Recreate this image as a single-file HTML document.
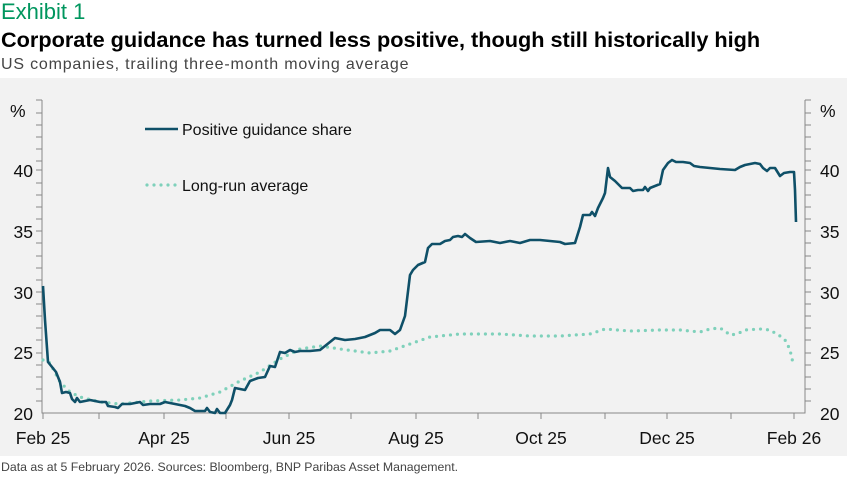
<!DOCTYPE html>
<html><head><meta charset="utf-8"><style>
body{margin:0;width:847px;height:480px;background:#fff;font-family:"Liberation Sans",sans-serif;overflow:hidden;position:relative}
.t{position:absolute;white-space:nowrap}
</style></head><body>
<div class="t" style="left:1px;top:-1px;font-size:22px;color:#00965e">Exhibit 1</div>
<div class="t" style="left:1px;top:27px;font-size:21.7px;font-weight:bold;color:#000">Corporate guidance has turned less positive, though still historically high</div>
<div class="t" style="left:1px;top:56px;font-size:16px;color:#444;letter-spacing:0.8px">US companies, trailing three-month moving average</div>
<div style="position:absolute;left:0;top:78px;width:847px;height:378px;background:#f2f2f2"></div>
<svg style="position:absolute;left:0;top:0" width="847" height="480" font-family="Liberation Sans, sans-serif">
<g stroke="#888" stroke-width="1" fill="none">
<path d="M42,100V413H805V100"/>
<path d="M36,100H42M36,113H42M36,125H42M36,137H42M36,149H42M36,161H42M36,170H42M36,183H42M36,195H42M36,207H42M36,219H42M36,231H42M36,243H42M36,256H42M36,268H42M36,280H42M36,292H42M36,304H42M36,316H42M36,328H42M36,340H42M36,353H42M36,365H42M36,377H42M36,389H42M36,401H42"/>
<path d="M805,100H811M805,113H811M805,125H811M805,137H811M805,149H811M805,161H811M805,170H811M805,183H811M805,195H811M805,207H811M805,219H811M805,231H811M805,243H811M805,256H811M805,268H811M805,280H811M805,292H811M805,304H811M805,316H811M805,328H811M805,340H811M805,353H811M805,365H811M805,377H811M805,389H811M805,401H811"/>
<path d="M43,413v6M99,413v6M164,413v6M226,413v6M289,413v6M351,413v6M416,413v6M478,413v6M541,413v6M605,413v6M667,413v6M731,413v6M794,413v6"/>
</g>
<g font-size="17.5" fill="#111">
<text x="10" y="117">%</text><text x="820" y="117">%</text>
<g text-anchor="end"><text x="33" y="177">40</text><text x="33" y="238">35</text><text x="33" y="299">30</text><text x="33" y="359">25</text><text x="33" y="420">20</text></g>
<text x="820" y="177">40</text><text x="820" y="238">35</text><text x="820" y="299">30</text><text x="820" y="359">25</text><text x="820" y="420">20</text>
<g text-anchor="middle"><text x="43" y="444">Feb 25</text><text x="164" y="444">Apr 25</text><text x="289" y="444">Jun 25</text><text x="416" y="444">Aug 25</text><text x="541" y="444">Oct 25</text><text x="667" y="444">Dec 25</text><text x="794" y="444">Feb 26</text></g>
</g>
<polyline fill="none" stroke="#7fd1bb" stroke-width="3.2" stroke-linecap="round" stroke-dasharray="0 7" points="43,360 50,363 60,382 70,392 80,397 100,402 120,404 150,401 180,400 200,398 220,392 240,381 260,372 280,359 300,349 320,346 340,349 370,353 390,351 410,344 430,337 460,334 500,334 530,336 560,336 590,334 605,329 630,331 660,330 680,330 690,331 700,332 710,329 720,328 725,331 730,335 737,334 745,330 760,329 770,330 780,336 786,341 790,350 793,363"/>
<polyline fill="none" stroke="#0f5068" stroke-width="2.6" stroke-linejoin="round" points="43,286 45,320 48,362 52,367 56,372 60,382 62,393 66,392 70,393 72,399 75,402 77,398 80,402 90,400 100,402 106,402 108,406 115,407 118,408 122,404 130,404 140,402 143,405 150,404 160,404 165,402 175,404 185,406 190,408 195,411 200,411 205,411 207,408 210,412 215,413 217,409 220,413 225,413 230,405 232,400 235,388 240,389 245,390 250,381 258,378 265,377 270,366 275,367 280,352 285,353 290,350 295,352 300,351 310,351 320,350 330,342 335,338 340,339 345,340 355,339 365,337 375,333 380,330 390,330 395,334 400,330 405,316 410,275 413,270 418,265 425,262 428,248 432,244 440,244 445,241 450,240 453,237 458,236 462,237 465,234 470,238 476,242 490,241 500,243 510,241 520,243 530,240 540,240 550,241 560,242 565,244 575,243 580,227 583,215 590,215 592,212 595,216 598,208 603,198 605,193 608,168 610,177 615,181 618,184 622,188 630,188 633,191 638,190 643,190 645,187 648,191 650,188 655,186 660,184 663,170 668,163 672,160 676,162 683,162 690,163 694,166 700,167 710,168 720,169 735,170 740,167 745,165 750,164 755,163 760,164 763,168 767,171 770,168 775,168 780,176 784,173 790,172 794,172 795,190 796,222"/>
<line x1="145" y1="129" x2="178" y2="129" stroke="#0f5068" stroke-width="2.6"/>
<line x1="147" y1="185" x2="178" y2="185" stroke="#7fd1bb" stroke-width="3.2" stroke-linecap="round" stroke-dasharray="0 7"/>
<g font-size="16" fill="#111"><text x="182" y="135">Positive guidance share</text><text x="182" y="191">Long-run average</text></g>
</svg>
<div class="t" style="left:1px;top:460px;font-size:12.3px;color:#444">Data as at 5 February 2026. Sources: Bloomberg, BNP Paribas Asset Management.</div>
</body></html>
